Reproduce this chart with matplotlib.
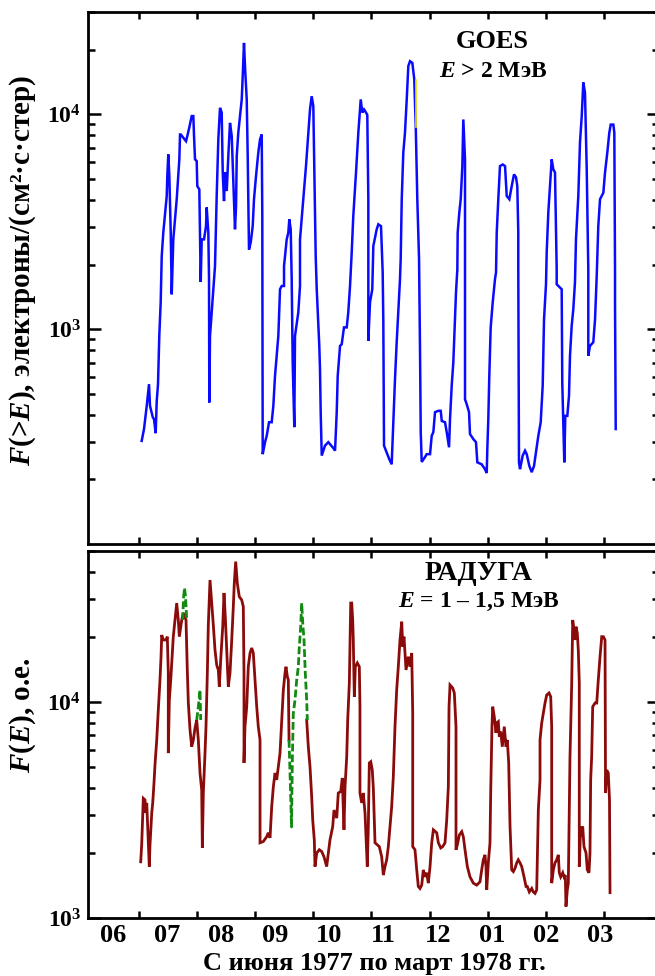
import numpy as np
import matplotlib
matplotlib.use("Agg")
import matplotlib.pyplot as plt
from matplotlib.ticker import LogLocator, NullFormatter, FixedLocator, FixedFormatter

plt.rcParams["font.family"] = ["Liberation Serif", "DejaVu Serif"]
plt.rcParams["font.weight"] = "bold"
plt.rcParams["axes.labelweight"] = "bold"
plt.rcParams["mathtext.fontset"] = "custom"
plt.rcParams["mathtext.rm"] = "Liberation Serif:bold"
plt.rcParams["mathtext.it"] = "Liberation Serif:italic:bold"
plt.rcParams["mathtext.bf"] = "Liberation Serif:bold"

# x is in months counted from 1 June 1977 (1 = July 1, 9 = March 1)
month_labels = ["06", "07", "08", "09", "10", "11", "12", "01", "02", "03"]

# GOES, E > 2 MeV
goes_t = [1.046, 1.086, 1.133, 1.172, 1.189, 1.236, 1.258, 1.287, 1.305, 1.327, 1.349, 1.373, 1.391, 1.418,
          1.448, 1.477, 1.487, 1.504, 1.522, 1.546, 1.563, 1.590, 1.620, 1.649, 1.676, 1.694, 1.706, 1.718,
          1.809, 1.831, 1.866, 1.907, 1.935, 1.947, 1.964, 1.993, 2.003, 2.038, 2.050, 2.062, 2.079, 2.119,
          2.153, 2.165, 2.193, 2.205, 2.210, 2.222, 2.251, 2.279, 2.308, 2.337, 2.365, 2.394, 2.423, 2.441,
          2.463, 2.480, 2.510, 2.537, 2.566, 2.596, 2.623, 2.652, 2.670, 2.682, 2.709, 2.738, 2.768, 2.785,
          2.807, 2.824, 2.854, 2.871, 2.893, 2.923, 2.957, 2.979, 3.014, 3.053, 3.083, 3.112, 3.122, 3.129,
          3.169, 3.198, 3.238, 3.284, 3.312, 3.341, 3.370, 3.398, 3.427, 3.456, 3.496, 3.496, 3.542, 3.570,
          3.587, 3.611, 3.628, 3.645, 3.673, 3.685, 3.742, 3.771, 3.771, 3.828, 3.874, 3.914, 3.943, 3.972,
          4.000, 4.017, 4.041, 4.059, 4.103, 4.115, 4.127, 4.145, 4.201, 4.258, 4.334, 4.374, 4.403, 4.420,
          4.460, 4.489, 4.528, 4.575, 4.602, 4.632, 4.661, 4.688, 4.735, 4.775, 4.816, 4.843, 4.873, 4.907,
          4.929, 4.947, 4.947, 4.976, 5.015, 5.033, 5.091, 5.119, 5.165, 5.194, 5.205, 5.217, 5.263, 5.308,
          5.349, 5.377, 5.406, 5.435, 5.463, 5.492, 5.504, 5.522, 5.549, 5.578, 5.608, 5.635, 5.664, 5.704,
          5.738, 5.763, 5.790, 5.820, 5.837, 5.849, 5.866, 5.923, 5.952, 6.009, 6.038, 6.066, 6.095, 6.152,
          6.193, 6.211, 6.267, 6.296, 6.336, 6.353, 6.382, 6.410, 6.439, 6.456, 6.479, 6.485, 6.513, 6.537,
          6.565, 6.582, 6.611, 6.611, 6.611, 6.640, 6.680, 6.697, 6.754, 6.800, 6.823, 6.898, 6.955, 6.985,
          6.995, 7.012, 7.029, 7.053, 7.088, 7.127, 7.145, 7.157, 7.184, 7.213, 7.260, 7.300, 7.329, 7.374,
          7.415, 7.454, 7.489, 7.511, 7.528, 7.528, 7.540, 7.558, 7.604, 7.644, 7.673, 7.718, 7.759, 7.799,
          7.833, 7.873, 7.914, 7.948, 7.971, 8.005, 8.017, 8.045, 8.074, 8.103, 8.131, 8.160, 8.189, 8.189,
          8.275, 8.285, 8.320, 8.337, 8.372, 8.401, 8.418, 8.447, 8.475, 8.504, 8.521, 8.561, 8.590, 8.620,
          8.647, 8.676, 8.706, 8.733, 8.733, 8.762, 8.819, 8.849, 8.878, 8.905, 8.935, 8.992, 9.021, 9.060,
          9.095, 9.119, 9.164, 9.181, 9.193, 9.193, 9.205]
goes_flux = [302, 343, 440, 555, 440, 390, 381, 328, 464, 555, 931, 1335, 2190, 2820,
             3430, 4170, 5170, 6520, 5170, 2820, 1454, 2620, 3250, 4030, 5170, 6180, 8070, 8070,
             7510, 7930, 8710, 9830, 9830, 7930, 6180, 6070, 4640, 4480, 2620, 1660, 2620, 2620,
             3020, 3690, 2820, 1710, 456, 931, 1200, 1535, 1970, 4170, 7660, 10740, 10210, 5370,
             3950, 5370, 4400, 6400, 9140, 7930, 4900, 2920, 3740, 6400, 8240, 9830, 11750, 15080,
             21540, 16790, 11750, 6400, 2350, 2540, 3020, 4030, 5170, 6640, 7660, 8070, 3360, 262,
             298, 319, 369, 369, 440, 607, 752, 931, 1535, 1590, 1590, 1970, 2620, 2820,
             3250, 2920, 1710, 703, 350, 931, 1200, 1590, 2620, 4030, 5750, 8240, 10550, 12160,
             10950, 5750, 2190, 1535, 836, 652, 411, 258, 287, 298, 282, 272, 411, 607,
             836, 852, 1020, 1020, 1200, 1590, 2280, 3360, 5370, 8240, 11750, 10210, 10550, 10210,
             9950, 4030, 882, 1335, 1535, 2440, 2920, 3080, 3020, 1840, 1093, 287, 267, 248,
             235, 369, 585, 870, 1200, 1710, 2120, 4030, 6650, 8240, 11750, 16790, 17700, 17400,
             14550, 8830, 4030, 2120, 782, 332, 241, 254, 262, 262, 319, 332, 411, 417,
             417, 374, 369, 332, 282, 381, 545, 703, 1110, 1485, 1900, 2820, 3500, 4030,
             5750, 9480, 6180, 3250, 472, 448, 411, 325, 308, 298, 240, 235, 223, 214,
             277, 381, 607, 1020, 1335, 1710, 1840, 2820, 4030, 5750, 5850, 5750, 4170, 4030,
             4640, 5260, 5100, 4640, 2820, 1900, 240, 223, 258, 272, 262, 231, 216, 231,
             268, 319, 369, 545, 1110, 1620, 2280, 3500, 4640, 6180, 5550, 5370, 1900, 1620,
             1535, 566, 240, 395, 395, 490, 752, 1036, 1239, 1660, 2620, 4170, 7410, 9830,
             14090, 12650, 5550, 1900, 752, 836, 870, 1110, 1770, 3020, 4030, 4320, 5370, 6640,
             8240, 8970, 8970, 8240, 1900, 1335, 343]

# short yellow trace near the November GOES maximum
goes_yel_t = [5.765, 5.765]
goes_yel_flux = [14500, 8700]

# RADUGA, E = 1 - 1.5 MeV (gap in September filled by the green trace)
rad_t = [1.029, 1.046, 1.074, 1.103, 1.120, 1.133, 1.160, 1.177, 1.189, 1.219, 1.236, 1.258, 1.275, 1.305,
         1.332, 1.361, 1.379, 1.391, 1.418, 1.465, 1.487, 1.504, 1.504, 1.522, 1.546, 1.563, 1.590, 1.620,
         1.649, 1.676, 1.694, 1.718, 1.735, 1.762, 1.809, 1.831, 1.849, 1.878, 1.907, 1.935, 1.964, 1.993,
         2.021, 2.050, 2.079, 2.090, 2.107, 2.136, 2.153, 2.176, 2.193, 2.222, 2.251, 2.279, 2.308, 2.337,
         2.365, 2.382, 2.406, 2.441, 2.463, 2.485, 2.510, 2.537, 2.566, 2.596, 2.623, 2.640, 2.664, 2.692,
         2.726, 2.768, 2.795, 2.807, 2.807, 2.824, 2.854, 2.881, 2.911, 2.940, 2.967, 2.997, 3.026, 3.053,
         3.083, 3.083, 3.140, 3.198, 3.225, 3.255, 3.284, 3.312, 3.341, 3.370, 3.398, 3.427, 3.456, 3.484,
         3.513, 3.530, 3.553, 3.570, 3.582, np.nan,
         3.886, 3.914, 3.943, 3.972, 3.990, 4.017, 4.029, 4.059, 4.103, 4.145, 4.184, 4.230, 4.287, 4.334,
         4.356, 4.403, 4.430, 4.472, 4.499, 4.528, 4.546, 4.575, 4.592, 4.620, 4.644, 4.661, 4.678, 4.688,
         4.706, 4.723, 4.757, 4.792, 4.803, 4.803, 4.833, 4.860, 4.890, 4.907, 4.929, 4.947, 4.964, 4.989,
         5.015, 5.033, 5.062, 5.136, 5.177, 5.205, 5.234, 5.263, 5.291, 5.320, 5.349, 5.377, 5.406, 5.435,
         5.463, 5.492, 5.522, 5.539, 5.561, 5.596, 5.635, 5.664, 5.694, 5.711, 5.711, 5.750, 5.780, 5.807,
         5.836, 5.866, 5.893, 5.923, 5.952, 5.979, 6.009, 6.038, 6.066, 6.124, 6.152, 6.193, 6.227, 6.267,
         6.296, 6.324, 6.336, 6.353, 6.399, 6.427, 6.456, 6.456, 6.479, 6.513, 6.555, 6.582, 6.611, 6.651,
         6.697, 6.754, 6.812, 6.869, 6.898, 6.926, 6.955, 6.972, 6.985, 7.012, 7.041, 7.053, 7.075, 7.088,
         7.115, 7.145, 7.157, 7.184, 7.201, 7.225, 7.253, 7.287, 7.317, 7.339, 7.363, 7.374, 7.386, 7.415,
         7.443, 7.472, 7.501, 7.528, 7.558, 7.587, 7.627, 7.661, 7.683, 7.718, 7.759, 7.787, 7.816, 7.845,
         7.873, 7.902, 7.902, 7.931, 7.959, 7.988, 8.017, 8.057, 8.086, 8.103, 8.103, 8.131, 8.160, 8.189,
         8.217, 8.234, 8.258, 8.293, 8.315, 8.337, 8.349, 8.372, 8.389, 8.406, 8.418, 8.447, 8.465, 8.487,
         8.504, 8.521, 8.544, 8.561, 8.578, 8.578, 8.602, 8.620, 8.637, 8.659, 8.694, 8.716, 8.745, 8.762,
         8.774, 8.791, 8.809, 8.849, 8.878, 8.905, 8.935, 8.964, 8.992, 9.021, 9.030, 9.050, 9.077, 9.098,
         9.107]
rad_flux = [1820, 2180, 3580, 3520, 3060, 3410, 2230, 1730, 2180, 3060, 3410, 4220, 5110, 6670,
            9180, 12640, 16210, 20420, 19370, 19370, 20060, 13620, 5800, 10220, 12640, 15160, 20060, 23970,
            28710, 23970, 20060, 22320, 23970, 25820, 23970, 14070, 9890, 7420, 6210, 6670, 7580, 8250,
            6670, 4690, 3910, 2110, 3790, 5800, 7690, 13620, 22710, 36700, 28710, 22710, 17400, 14840,
            14070, 11770, 15640, 22320, 31960, 24820, 17400, 11770, 13620, 19370, 27620, 35450, 44670, 35450,
            30730, 29650, 27620, 13620, 5220, 7690, 9510, 14560, 16860, 17780, 16860, 12640, 9510, 7690,
            6670, 2230, 2260, 2380, 2480, 2350, 3280, 4050, 4690, 4360, 5020, 5800, 8250, 11360,
            13620, 14560, 13100, 12640, 6670, np.nan,
            8250, 6210, 5020, 3650, 2840, 2300, 1730, 2000, 2070, 2030, 1920, 1730, 2300, 2650,
            3160, 2900, 3790, 3850, 4450, 2560, 4050, 5580, 8250, 12240, 28710, 28710, 23970, 19370,
            10580, 14560, 15160, 14560, 9510, 3790, 3410, 3790, 3060, 2380, 1730, 2650, 5220, 5290,
            4840, 4000, 2230, 2140, 1920, 1580, 1730, 1860, 2140, 2650, 3280, 4510, 7690, 11360,
            14560, 19370, 23530, 18030, 20060, 14070, 16210, 14560, 16860, 8890, 2140, 2070, 1670, 1400,
            1370, 1420, 1670, 1550, 1620, 1450, 1730, 2230, 2560, 2480, 2230, 2110, 2140, 2230,
            2840, 4050, 9510, 11990, 11610, 11010, 7690, 2070, 2180, 2420, 2510, 2380, 2070, 1730,
            1550, 1450, 1420, 1470, 1670, 1860, 1960, 1730, 1350, 1800, 2230, 3790, 7690, 9510,
            8550, 7190, 7990, 8110, 6910, 7290, 6210, 7690, 6210, 6670, 5220, 3790, 2650, 1670,
            1640, 1700, 1800, 1860, 1800, 1730, 1550, 1400, 1400, 1320, 1370, 1320, 1300, 1350,
            3160, 4360, 6670, 7990, 8890, 9890, 10770, 11010, 10580, 7690, 1450, 1670, 1800, 1860,
            1960, 1620, 1550, 1620, 1550, 1580, 1130, 1350, 1450, 3160, 5580, 11990, 23970, 21530,
            19370, 22320, 20850, 17400, 12240, 1730, 2650, 2380, 2650, 2140, 2000, 1670, 1620, 2000,
            4360, 5580, 9510, 9890, 9890, 12640, 16210, 20060, 20060, 19370, 3790, 4840, 4690, 3520,
            1310]

# green dashed trace (three short pieces)
grn_t = [1.752, 1.766, 1.783, 1.800, 1.821, np.nan,
         1.993, 2.021, 2.038, 2.050, 2.062, np.nan,
         3.582, 3.608, 3.625, 3.639, 3.656, 3.685, 3.714, 3.742, 3.759, 3.783, 3.800, 3.818, 3.840,
         3.862, 3.886, 3.897]
grn_flux = [23970, 30300, 33700, 31000, 23970, np.nan,
            8250, 9510, 10580, 11360, 8250, np.nan,
            6670, 3910, 2640, 5390, 8890, 10220, 12640, 14560, 18030, 22320, 28710, 23210, 19370,
            13620, 10220, 8250]

W, H = 655, 976
fig = plt.figure(figsize=(W / 100, H / 100), dpi=100)
ax1 = fig.add_axes([88 / W, 1 - 544 / H, (659 - 88) / W, (544 - 12) / H])
ax2 = fig.add_axes([88 / W, 1 - 918 / H, (659 - 88) / W, (918 - 551) / H])

ax1.plot(goes_t, goes_flux, color="#0a0aff", lw=1.8, solid_joinstyle="miter")
ax1.plot(goes_yel_t, goes_yel_flux, color="#e8e000", lw=1.2)
ax2.plot(rad_t, rad_flux, color="#8b0a0a", lw=2.0, solid_joinstyle="miter")
ax2.plot(grn_t, grn_flux, color="#128a12", lw=2.0, dashes=(2.8, 1.1))

ax1.set_ylim(100, 30000)
ax2.set_ylim(1000, 50000)

label_pos = 0.553 + 0.9312 * np.arange(len(month_labels))

for ax in (ax1, ax2):
    ax.set_yscale("log")
    ax.set_xlim(0.122, 9.950)
    ax.yaxis.set_major_locator(FixedLocator([1e3, 1e4]))
    ax.yaxis.set_minor_locator(LogLocator(base=10, subs=np.arange(2, 10)))
    ax.yaxis.set_minor_formatter(NullFormatter())
    ax.yaxis.set_major_formatter(FixedFormatter([r"$\mathbf{10^{3}}$", r"$\mathbf{10^{4}}$"]))
    ax.xaxis.set_major_locator(FixedLocator(np.arange(1, 10)))
    ax.xaxis.set_major_formatter(NullFormatter())
    ax.tick_params(axis="both", which="both", direction="in", top=True, right=True, width=1.8)
    ax.tick_params(axis="y", which="major", length=9, labelsize=17, pad=5)
    ax.tick_params(axis="y", which="minor", length=5)
    ax.tick_params(axis="x", which="major", length=5)
    for s in ax.spines.values():
        s.set_linewidth(2.0)

ax2.xaxis.set_minor_locator(FixedLocator(label_pos))
ax2.xaxis.set_minor_formatter(FixedFormatter(month_labels))
ax2.tick_params(axis="x", which="minor", length=0, labelsize=19, pad=4, top=False)
ax1.xaxis.set_minor_locator(FixedLocator([]))

fig.text(374 / W, 1 - 970 / H, "С июня 1977 по март 1978 гг.", ha="center", va="baseline", fontsize=19)

fig.text(23 / W, 1 - 270 / H, r"$F$(>$E$), электроны/(см²·с·стер)", rotation=90,
         ha="center", va="center", fontsize=21)
fig.text(23 / W, 1 - 715 / H, r"$F$($E$), о.е.", rotation=90,
         ha="center", va="center", fontsize=21)

fig.text(492 / W, 1 - 48 / H, "GOES", ha="center", va="baseline", fontsize=19)
fig.text(493 / W, 1 - 77 / H, r"$E$ > 2 МэВ", ha="center", va="baseline", fontsize=17)
fig.text(479 / W, 1 - 580 / H, "РАДУГА", ha="center", va="baseline", fontsize=20)
fig.text(479 / W, 1 - 607 / H, r"$E$ = 1 – 1,5 МэВ", ha="center", va="baseline", fontsize=17)

fig.savefig("out.png", dpi=100)
